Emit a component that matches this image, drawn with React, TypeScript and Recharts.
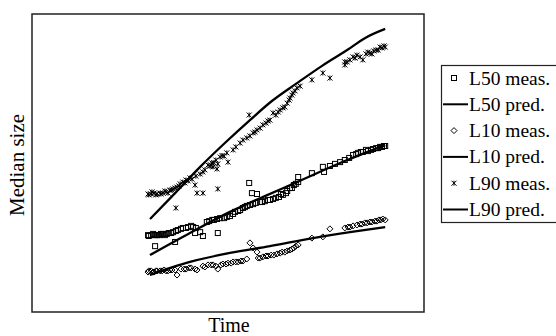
import React from 'react';
import { ScatterChart, Scatter, XAxis, YAxis, ReferenceArea } from 'recharts';

// measured medians, [time, size]
const l50Meas: [number, number][] = [
  [29.6, 25.8], [29.8, 25.5], [30.4, 25.8], [30.9, 26.2], [31.4, 22.1], [31.4, 25.8], [31.9, 25.8],
  [32.4, 25.8], [32.9, 26.2], [33.4, 26.2], [33.9, 25.8], [34.4, 26.2], [34.9, 26.5], [35.5, 26.5],
  [36.0, 26.8], [36.5, 23.5], [36.7, 27.2], [37.2, 27.5], [38.0, 27.9], [38.5, 28.2], [39.3, 28.2],
  [39.8, 28.5], [40.6, 28.9], [41.1, 28.5], [41.6, 26.5], [41.8, 28.2], [42.9, 26.8], [43.6, 25.5],
  [44.6, 30.2], [45.2, 30.5], [46.0, 30.9], [46.4, 30.9], [47.2, 31.2], [47.4, 26.5], [48.0, 31.5],
  [49.0, 31.5], [49.7, 31.9], [50.5, 32.2], [51.3, 32.9], [51.8, 33.6], [52.6, 33.9], [53.1, 34.2],
  [53.8, 34.9], [54.3, 35.2], [54.8, 35.6], [55.4, 43.3], [55.6, 35.9], [56.1, 39.9], [56.4, 36.2],
  [57.1, 36.6], [57.4, 39.6], [58.2, 36.9], [58.7, 36.9], [59.4, 37.2], [60.2, 37.6], [60.7, 37.6],
  [61.5, 37.9], [62.2, 38.3], [63.0, 38.6], [63.5, 39.6], [64.0, 39.3], [64.8, 39.9], [65.1, 40.6],
  [65.8, 41.6], [66.3, 41.6], [66.8, 42.6], [67.3, 43.0], [67.9, 43.6], [67.9, 45.3], [71.4, 46.6],
  [74.2, 48.7], [74.5, 47.0], [76.0, 49.0], [77.3, 49.7], [78.6, 50.3], [79.8, 51.0], [80.9, 51.7],
  [81.9, 52.7], [82.7, 53.0], [83.2, 53.4], [83.9, 53.7], [84.4, 53.7], [85.2, 54.4], [85.7, 54.0],
  [86.5, 54.4], [87.0, 54.7], [87.8, 55.0], [88.3, 55.0], [88.8, 55.4], [89.3, 55.4], [89.8, 55.7],
  [90.1, 55.7],
];
const l10Meas: [number, number][] = [
  [29.6, 13.4], [29.8, 13.8], [30.4, 13.8], [30.9, 13.4], [31.1, 13.4], [31.6, 13.8], [31.9, 13.8],
  [32.7, 13.8], [33.2, 13.8], [33.7, 14.1], [34.2, 13.8], [34.7, 13.8], [35.2, 14.1], [35.7, 14.1],
  [36.5, 14.1], [37.0, 12.4], [38.0, 14.4], [38.8, 14.4], [39.3, 14.4], [40.1, 14.8], [40.6, 14.8],
  [41.6, 14.4], [42.1, 14.1], [43.6, 15.4], [44.1, 15.1], [44.9, 15.8], [45.7, 15.8], [46.2, 15.8],
  [46.9, 15.4], [47.4, 14.4], [48.2, 15.8], [48.7, 16.1], [49.5, 16.1], [50.0, 16.4], [50.8, 16.4],
  [51.3, 16.8], [52.0, 16.8], [52.6, 16.8], [53.3, 17.1], [53.8, 17.1], [54.8, 17.8], [55.6, 23.2],
  [56.4, 21.5], [57.4, 20.1], [57.7, 18.1], [58.2, 18.1], [58.9, 18.5], [59.7, 18.8], [60.2, 18.8],
  [61.0, 19.1], [61.7, 19.1], [62.5, 19.5], [63.3, 19.8], [63.8, 20.1], [64.5, 20.1], [65.1, 20.5],
  [65.8, 20.8], [66.3, 21.1], [66.8, 21.5], [67.3, 22.1], [67.9, 22.5], [71.4, 24.8], [74.2, 25.2],
  [76.0, 27.9], [79.8, 28.2], [80.6, 28.5], [81.1, 28.5], [81.9, 28.9], [82.9, 29.2], [83.7, 29.5],
  [84.2, 29.5], [84.9, 29.9], [85.5, 29.9], [86.2, 30.2], [86.7, 30.2], [87.5, 30.5], [88.0, 30.5],
  [88.5, 30.9], [89.0, 30.9], [89.5, 31.2], [90.1, 30.9],
];
const l90Meas: [number, number][] = [
  [29.6, 39.6], [29.8, 39.3], [30.4, 39.6], [30.6, 40.3], [31.1, 39.9], [31.6, 39.3], [31.9, 39.6],
  [32.7, 39.9], [32.9, 39.6], [33.4, 39.9], [33.9, 40.6], [34.2, 40.3], [34.7, 39.9], [35.2, 40.9],
  [35.7, 40.9], [36.0, 41.3], [36.5, 41.6], [37.0, 41.9], [37.5, 42.3], [37.8, 43.0], [38.5, 43.6],
  [39.0, 43.3], [39.3, 44.3], [39.8, 44.0], [40.3, 45.0], [40.8, 44.6], [41.8, 45.6], [42.9, 46.3],
  [43.6, 47.0], [36.7, 34.9], [41.6, 42.6], [42.1, 39.9], [43.6, 39.9], [47.4, 41.3], [44.1, 47.7],
  [44.9, 49.3], [45.4, 48.9], [45.7, 49.3], [45.9, 50.0], [46.2, 48.7], [46.4, 50.1], [46.9, 51.0],
  [47.2, 48.0], [47.4, 49.7], [48.0, 52.0], [48.5, 52.5], [49.0, 52.3], [49.7, 53.4], [50.0, 50.3],
  [51.3, 54.4], [52.0, 55.4], [53.1, 56.7], [53.8, 57.7], [54.8, 58.4], [55.4, 66.1], [55.6, 59.1],
  [56.4, 60.1], [56.9, 60.4], [57.4, 61.1], [58.2, 61.7], [58.9, 62.8], [59.7, 63.4], [60.2, 64.1],
  [60.7, 64.4], [61.5, 66.8], [62.2, 66.1], [62.8, 67.1], [63.3, 67.8], [64.0, 68.5], [64.5, 68.8],
  [65.1, 70.1], [65.6, 71.1], [65.8, 71.8], [66.3, 72.8], [66.6, 73.5], [67.1, 74.2], [67.6, 75.2],
  [68.4, 75.8], [71.4, 77.9], [74.2, 80.2], [76.0, 78.5], [79.8, 82.9], [79.8, 83.9], [80.4, 83.9],
  [81.1, 84.6], [81.9, 85.6], [82.4, 85.2], [82.9, 86.2], [83.7, 85.6], [84.4, 84.6], [85.2, 86.6],
  [85.7, 87.2], [86.2, 86.9], [86.7, 86.6], [87.2, 87.6], [87.8, 87.9], [88.3, 87.9], [88.8, 88.9],
  [89.3, 88.6], [89.8, 89.3], [90.1, 88.9],
];

// model predictions
const l50Pred: [number, number][] = [
  [30.1, 19.1], [40.3, 26.5], [50.5, 33.6], [59.4, 38.9], [67.6, 43.6], [78.6, 50.0], [90.1, 56.0],
];
const l10Pred: [number, number][] = [
  [30.1, 12.4], [40.3, 16.8], [50.5, 19.8], [60.7, 22.1], [71.7, 24.8], [81.1, 26.8], [90.1, 28.5],
];
const l90Pred: [number, number][] = [
  [30.1, 31.2], [36.5, 39.9], [42.9, 48.7], [49.2, 56.7], [55.6, 64.4], [61.2, 70.8], [67.6, 76.8],
  [74.0, 82.6], [80.4, 87.9], [84.9, 91.9], [90.1, 95.0],
];

const legendLabels = ['L50 meas.', 'L50 pred.', 'L10 meas.', 'L10 pred.', 'L90 meas.', 'L90 pred.'];

const toPts = (arr: [number, number][]) => arr.map(([t, s]) => ({ t, s }));

const Square = ({ cx, cy, r = 2.5 }: any) => (
  <rect x={cx - r} y={cy - r} width={r * 2} height={r * 2} fill="none" stroke="#000" strokeWidth={1} />
);
const Diamond = ({ cx, cy, r = 3 }: any) => (
  <path d={`M${cx},${cy - r}L${cx + r},${cy}L${cx},${cy + r}L${cx - r},${cy}Z`} fill="none" stroke="#000" strokeWidth={1} />
);
const Cross = ({ cx, cy, r = 2.5 }: any) => (
  <path d={`M${cx - r},${cy - r}L${cx + r},${cy + r}M${cx + r},${cy - r}L${cx - r},${cy + r}M${cx},${cy - r}L${cx},${cy + r}`} stroke="#000" strokeWidth={1} />
);
const NoDot = () => <g />;

const font = '"Liberation Serif", "Times New Roman", serif';
const predLine = { stroke: '#000', strokeWidth: 2.3 };

export default function App() {
  const symbols = [
    (y: number) => <Square cx={454} cy={y} r={2.5} />,
    (y: number) => <line x1={443} x2={468} y1={y} y2={y} stroke="#000" strokeWidth={2} />,
    (y: number) => <Diamond cx={454} cy={y} r={3} />,
    (y: number) => <line x1={443} x2={468} y1={y} y2={y} stroke="#000" strokeWidth={2} />,
    (y: number) => <Cross cx={454} cy={y} r={2.5} />,
    (y: number) => <line x1={443} x2={468} y1={y} y2={y} stroke="#000" strokeWidth={2} />,
  ];
  return (
    <div style={{ position: 'absolute', left: 0, top: 0, width: 556, height: 336, background: '#fff', fontFamily: font }}>
      <ScatterChart width={556} height={336} margin={{ top: 14, right: 132, bottom: 24, left: 32 }}>
        <XAxis type="number" dataKey="t" domain={[0, 100]} hide />
        <YAxis type="number" dataKey="s" domain={[0, 100]} hide />
        <ReferenceArea x1={0} x2={100} y1={0} y2={100} fill="none" stroke="#222" strokeWidth={1.5} ifOverflow="visible" />
        <Scatter data={toPts(l50Meas)} shape={<Square />} isAnimationActive={false} />
        <Scatter data={toPts(l10Meas)} shape={<Diamond />} isAnimationActive={false} />
        <Scatter data={toPts(l90Meas)} shape={<Cross />} isAnimationActive={false} />
        <Scatter data={toPts(l50Pred)} shape={<NoDot />} line={predLine} lineJointType="monotoneX" isAnimationActive={false} />
        <Scatter data={toPts(l10Pred)} shape={<NoDot />} line={predLine} lineJointType="monotoneX" isAnimationActive={false} />
        <Scatter data={toPts(l90Pred)} shape={<NoDot />} line={predLine} lineJointType="monotoneX" isAnimationActive={false} />
      </ScatterChart>
      <svg width={556} height={336} style={{ position: 'absolute', left: 0, top: 0, pointerEvents: 'none' }}>
        <text transform="translate(24,165) rotate(-90)" textAnchor="middle" fontSize={21} fontFamily={font}>Median size</text>
        <text x={229} y={332} textAnchor="middle" fontSize={20} fontFamily={font}>Time</text>
        <rect x={441.5} y={65.5} width={130} height={157} fill="#fff" stroke="#222" strokeWidth={1.2} />
        {legendLabels.map((label, i) => {
          const cy = 78 + i * 26.3;
          return (
            <g key={label}>
              {symbols[i](cy)}
              <text x={469} y={cy + 6.5} fontSize={19.5} fontFamily={font}>{label}</text>
            </g>
          );
        })}
      </svg>
    </div>
  );
}
